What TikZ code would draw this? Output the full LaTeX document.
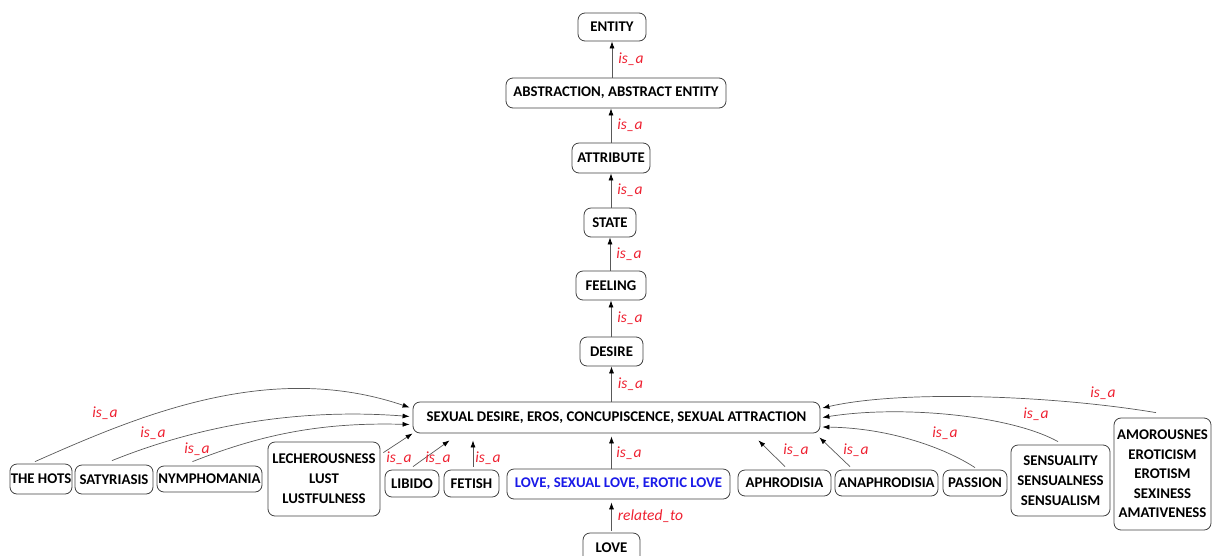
\documentclass[tikz,border=0pt]{standalone}
\usepackage{fontspec}
\setmainfont{Carlito}
\usetikzlibrary{arrows.meta,calc}
\definecolor{lblred}{HTML}{EE2030}
\definecolor{lnblue}{HTML}{1A1AE8}
\tikzset{
 cbox/.style={draw=black!75, line width=0.8pt, rounded corners=7pt, font=\fontsize{14.8}{20}\selectfont\bfseries, inner sep=0pt, align=center},
 rel/.style={draw=black!65, line width=0.7pt, -{Latex[length=7pt,width=5pt,black]}},
 lbl/.style={text=lblred, font=\fontsize{15.5}{16}\selectfont\itshape, inner sep=0pt},
}
\begin{document}
\begin{tikzpicture}[x=1pt,y=-1pt]
\useasboundingbox (0,0) rectangle (1212,555);
\clip (0,0) rectangle (1212,555);
% chain
\node[cbox, minimum width=68pt, minimum height=28pt] (entity) at (612,27) {ENTITY};
\node[cbox, minimum width=220pt, minimum height=30pt] (abstr) at (616,93) {ABSTRACTION, ABSTRACT ENTITY};
\node[cbox, minimum width=78pt, minimum height=30pt] (attr) at (611,158) {ATTRIBUTE};
\node[cbox, minimum width=52pt, minimum height=29pt] (state) at (610,222.5) {STATE};
\node[cbox, minimum width=70pt, minimum height=29pt] (feeling) at (611,285.5) {FEELING};
\node[cbox, minimum width=63pt, minimum height=29pt] (desire) at (611.5,351.5) {DESIRE};
\node[cbox, minimum width=407pt, minimum height=31pt] (sd) at (616.5,417.5) {SEXUAL DESIRE, EROS, CONCUPISCENCE, SEXUAL ATTRACTION};
% bottom row
\node[cbox, minimum width=62pt, minimum height=30pt] (hots) at (41,479) {THE HOTS};
\node[cbox, minimum width=78pt, minimum height=29pt] (saty) at (114,479.5) {SATYRIASIS};
\node[cbox, minimum width=105pt, minimum height=26pt] (nymph) at (209.5,479) {NYMPHOMANIA};
\node[cbox, minimum width=112pt, minimum height=74pt] (lech) at (324,479) {LECHEROUSNESS\\LUST\\LUSTFULNESS};
\node[cbox, minimum width=54pt, minimum height=27pt] (libido) at (412,483.5) {LIBIDO};
\node[cbox, minimum width=55pt, minimum height=27pt] (fetish) at (471.5,483.5) {FETISH};
\node[cbox, minimum width=223pt, minimum height=30pt, text=lnblue] (love3) at (618.5,484) {LOVE, SEXUAL LOVE, EROTIC LOVE};
\node[cbox, minimum width=93pt, minimum height=26pt] (aphr) at (784.5,483) {APHRODISIA};
\node[cbox, minimum width=103pt, minimum height=26pt] (anaphr) at (886.5,483) {ANAPHRODISIA};
\node[cbox, minimum width=64pt, minimum height=26pt] (passion) at (975,483) {PASSION};
\node[cbox, minimum width=99pt, minimum height=71pt] (sens) at (1060.5,480.5) {SENSUALITY\\SENSUALNESS\\SENSUALISM};
\node[cbox, minimum width=97pt, minimum height=112pt, font=\fontsize{14.8}{19.5}\selectfont\bfseries] (amor) at (1162.5,474) {AMOROUSNES\\EROTICISM\\EROTISM\\SEXINESS\\AMATIVENESS};
\node[cbox, minimum width=57pt, minimum height=30pt] (love) at (611.5,548) {LOVE};
% chain edges
\draw[rel] (abstr.north -| entity) -- (entity.south) node[lbl, midway, right=6pt] {is\_a};
\draw[rel] (attr.north) -- (attr.north |- abstr.south) node[lbl, midway, right=6pt] {is\_a};
\draw[rel] (state.north -| attr) -- (attr.south) node[lbl, midway, right=6pt] {is\_a};
\draw[rel] (feeling.north -| state) -- (state.south) node[lbl, midway, right=6pt] {is\_a};
\draw[rel] (desire.north -| feeling) -- (feeling.south) node[lbl, midway, right=6pt] {is\_a};
\draw[rel] (sd.north -| desire) -- (desire.south) node[lbl, midway, right=6pt] {is\_a};
% curved / diagonal edges
\draw[rel] ($(hots.north)+(-6,-2)$) .. controls (140,415) and (270,360) .. ($(sd.west)+(-3,-10)$);
\node[lbl] (l1) at (105,413) {is\_a};
\draw[rel] ($(saty.north)+(-2,-4)$) .. controls (200,425) and (300,408) .. ($(sd.west)+(-3,-1)$);
\node[lbl] (l2) at (153,433) {is\_a};
\draw[rel] ($(nymph.north)+(-17,-4)$) .. controls (260,435) and (320,422) .. ($(sd.west)+(-3,7)$);
\node[lbl] (l3) at (197,449) {is\_a};
\draw[rel] ($(lech.north east)+(3,11)$) -- ($(sd.south west)+(0,0)$);
\node[lbl] (l4) at (399,458) {is\_a};
\draw[rel] ($(libido.north)+(1,-3)$) -- ($(sd.south west)+(37,7)$);
\node[lbl] (l5) at (438,458) {is\_a};
\draw[rel] ($(fetish.north)+(1.5,-3)$) -- ($(fetish.north |- sd.south)+(1.5,7)$);
\node[lbl] (l6) at (488,458) {is\_a};
\draw[rel] (love3.north -| desire) -- ($(desire |- sd.south)+(0,3)$);
\node[lbl] (l7) at (629,453) {is\_a};
\draw[rel] ($(aphr.north)+(0.5,-3)$) -- ($(sd.south east)+(-62,7)$);
\node[lbl] (l8) at (796,450) {is\_a};
\draw[rel] ($(anaphr.north)+(-36.5,-3)$) -- ($(sd.south east)+(-1,4)$);
\node[lbl] (l9) at (856,450) {is\_a};
\draw[rel] ($(passion.north)+(0,-2)$) .. controls (945,448) and (890,428) .. ($(sd.east)+(2,9.5)$);
\node[lbl] (l10) at (945,433) {is\_a};
\draw[rel] ($(sens.north)+(-2.5,-3)$) .. controls (1010,415) and (900,405) .. ($(sd.east)+(2,0)$);
\node[lbl] (l11) at (1036,414) {is\_a};
\draw[rel] ($(amor.north)+(-6.5,-5)$) .. controls (1050,395) and (900,390) .. ($(sd.east)+(2,-9.5)$);
\node[lbl] (l12) at (1103,393) {is\_a};
\draw[rel] ($(love.north)+(0,-2)$) -- ($(love.north |- love3.south)+(0,3)$) node[lbl, midway, right=6pt] {related\_to};
\end{tikzpicture}
\end{document}
